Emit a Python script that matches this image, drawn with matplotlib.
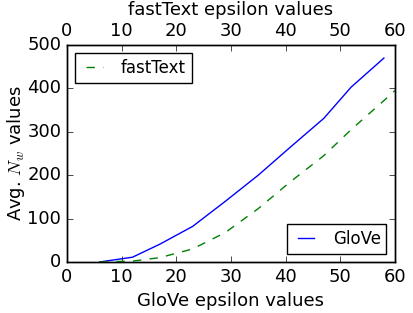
import matplotlib
matplotlib.use("Agg")
import matplotlib.pyplot as plt

plt.style.use("classic")
plt.rcParams["font.size"] = 13

# datos
glove_eps = [6, 12, 17, 23, 29, 35, 41, 47, 52, 58]
glove_nw = [0, 11, 41, 82, 140, 200, 266, 331, 403, 470]
fasttext_eps = [6, 12, 17, 23, 29, 35, 41, 47, 52, 58, 64]
fasttext_nw = [0, 2, 10, 30, 68, 123, 186, 245, 305, 372, 440]

leg_opts = dict(fontsize=12, handlelength=1.6, handletextpad=0.8, borderpad=0.35)

fig = plt.figure(figsize=(4.13, 3.13), dpi=100, facecolor="white")
ax1 = fig.add_subplot(111)
fig.subplots_adjust(left=0.162, right=0.956, top=0.856, bottom=0.163)

ax1.plot(glove_eps, glove_nw, "b-", label="GloVe")
ax1.set_xlim(0, 60)
ax1.set_ylim(0, 500)
ax1.set_xlabel("GloVe epsilon values", fontsize=13)
ax1.set_ylabel("Avg. $N_w$ values", fontsize=13, labelpad=0)
ax1.tick_params(labelsize=13)
ax1.legend(loc="lower right", **leg_opts)

ax2 = ax1.twiny()
ax2.plot(fasttext_eps, fasttext_nw, "g--", label="fastText")
ax2.set_xlim(0, 60)
ax2.set_ylim(0, 500)
ax2.set_xlabel("fastText epsilon values", fontsize=13)
ax2.tick_params(labelsize=13)
ax2.legend(loc="upper left", **leg_opts)

fig.savefig("out.png", dpi=100, facecolor="white")
